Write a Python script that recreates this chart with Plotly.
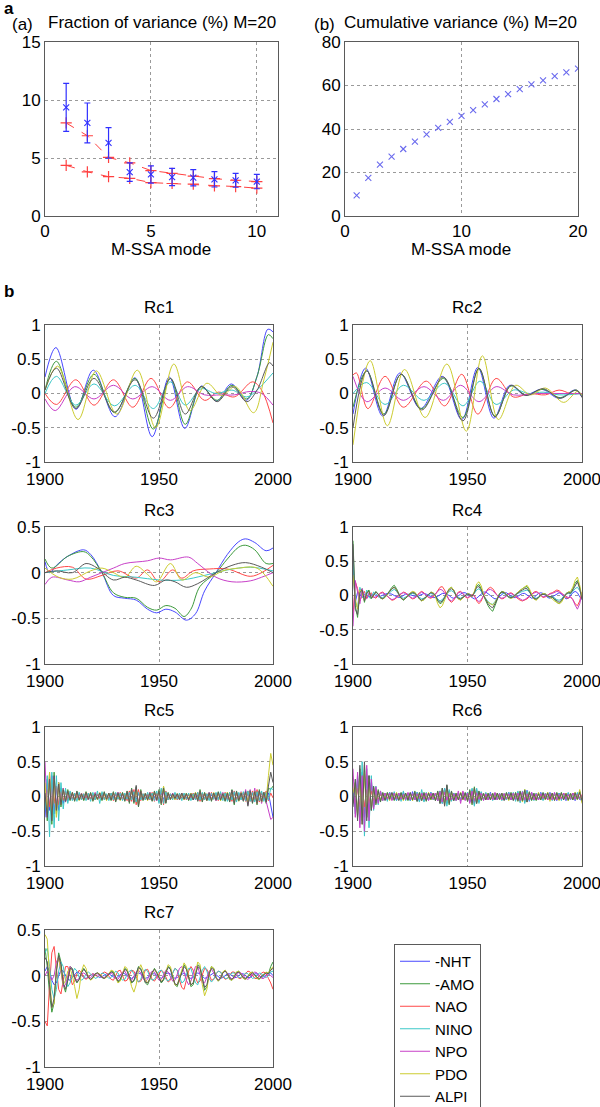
import plotly.graph_objects as go

# ---------------- Panel (a): fraction of variance ----------------
MODES_A = [1, 2, 3, 4, 5, 6, 7, 8, 9, 10]
FRAC_VAR = [9.37, 8.02, 6.30, 3.78, 3.58, 3.36, 3.30, 3.16, 3.08, 2.97]
FRAC_ERR = [2.07, 1.72, 1.32, 0.80, 0.74, 0.74, 0.70, 0.66, 0.60, 0.62]
NOISE_UPPER = [8.02, 6.92, 5.05, 4.58, 3.92, 3.67, 3.44, 3.22, 3.08, 2.97]
NOISE_LOWER = [4.37, 3.81, 3.39, 3.25, 2.88, 2.80, 2.74, 2.60, 2.54, 2.40]

# ---------------- Panel (b): cumulative variance ----------------
MODES_B = list(range(1, 21))
CUM_VAR = [9.5, 17.5, 23.6, 27.3, 30.8, 34.2, 37.5, 40.5, 43.3, 46.0,
           48.7, 51.3, 53.8, 56.0, 58.3, 60.5, 62.4, 64.3, 66.0, 67.8]

SERIES = ["-NHT", "-AMO", "NAO", "NINO", "NPO", "PDO", "ALPI"]
COLORS = ["#4848ff", "#3c9a3c", "#ff4848", "#3cc8c8", "#c840c8", "#cccc30", "#5a5a5a"]

# ---------------- Rc1..Rc3 : knots (year, value) per series ----------------
RC1_YEARS = {
    "-NHT": [1900, 1904.8, 1913.6, 1921.2, 1930.7, 1939.4, 1947, 1954.5, 1961.3, 1968.6, 1975.2, 1981.7, 1988.3, 1993, 1997.8, 2000],
    "-AMO": [1900, 1905, 1913.5, 1921.5, 1930.5, 1939.5, 1947.5, 1955, 1961.5, 1968.5, 1975.5, 1982, 1988.5, 1993, 1998, 2000],
    "NAO": [1900, 1905, 1913.5, 1921.5, 1930, 1938.5, 1946.5, 1954.5, 1962.5, 1970, 1976, 1983, 1991, 1995, 2000],
    "NINO": [1900, 1905, 1913.5, 1921.5, 1930.5, 1939.5, 1947.5, 1955, 1961.5, 1968.5, 1975, 1982, 1988.5, 1993, 2000],
    "NPO": [1900, 1904.5, 1913, 1921.5, 1930, 1938.5, 1947, 1955, 1962.5, 1970, 1977, 1983, 1990, 1995, 2000],
    "PDO": [1900, 1905.5, 1914.5, 1922.5, 1931.5, 1940.5, 1948.5, 1956.5, 1963.5, 1971, 1977.5, 1983.5, 1991.5, 1996, 2000],
    "ALPI": [1900, 1905, 1913.5, 1921.5, 1930.5, 1939.5, 1947.5, 1955, 1961.5, 1968.5, 1975.5, 1982, 1988.5, 1993, 1998.5, 2000],
}
RC1_VALUES = {
    "-NHT": [0.24, 0.67, -0.23, 0.34, -0.34, 0.23, -0.63, 0.24, -0.51, 0.11, -0.11, 0.14, -0.10, 0.25, 0.94, 0.90],
    "-AMO": [0.05, 0.47, -0.20, 0.28, -0.28, 0.22, -0.52, 0.22, -0.45, 0.10, -0.10, 0.12, -0.08, 0.25, 0.86, 0.80],
    "NAO": [0.0, -0.16, 0.20, -0.17, 0.20, -0.20, 0.22, -0.21, 0.17, -0.10, 0.02, -0.05, 0.17, 0.05, -0.43],
    "NINO": [0.0, 0.25, -0.17, 0.14, -0.18, 0.12, -0.22, 0.17, -0.17, 0.07, 0.0, 0.05, -0.05, 0.05, 0.30],
    "NPO": [-0.08, -0.25, 0.10, -0.08, 0.12, -0.08, 0.10, -0.10, 0.10, -0.02, -0.02, -0.02, 0.03, 0.0, -0.17],
    "PDO": [0.05, 0.40, -0.38, 0.33, -0.30, 0.34, -0.50, 0.43, -0.25, 0.15, -0.03, 0.10, -0.28, 0.20, 0.75],
    "ALPI": [0.05, 0.37, -0.22, 0.22, -0.27, 0.20, -0.36, 0.22, -0.30, 0.10, -0.12, 0.10, -0.12, 0.05, 0.45, 0.40],
}

RC2_YEARS = {
    "-NHT": [1900, 1905.5, 1913, 1920.5, 1929.5, 1939, 1947.5, 1954.5, 1961.5, 1968.5, 1975, 1982.5, 1990, 1997, 2000],
    "-AMO": [1900, 1906, 1913.5, 1921, 1930, 1939.5, 1948, 1955, 1962, 1969, 1975.5, 1983, 1990.5, 1997.5, 2000],
    "NAO": [1900, 1901.5, 1906.5, 1914, 1922, 1932, 1940, 1947.5, 1954.5, 1962.5, 1970, 1977, 1984, 1990, 1995, 2000],
    "NINO": [1900, 1906, 1914, 1922, 1931, 1940, 1948, 1955.5, 1962.5, 1970, 1977, 1983, 1990, 2000],
    "NPO": [1900, 1906, 1914, 1922, 1931, 1939.5, 1947, 1955, 1962.5, 1970, 1980, 1990, 2000],
    "PDO": [1900, 1907.5, 1915, 1922.5, 1931.5, 1941, 1949.5, 1956.5, 1963.5, 1971, 1977.5, 1984, 1992, 1998, 2000],
    "ALPI": [1900, 1906, 1913.5, 1921, 1930, 1939.5, 1948, 1955, 1962, 1969, 1975.5, 1983, 1990.5, 1997.5, 2000],
}
RC2_VALUES = {
    "-NHT": [-0.30, 0.37, -0.33, 0.30, -0.22, 0.25, -0.38, 0.38, -0.36, 0.12, -0.02, 0.06, -0.07, 0.05, -0.05],
    "-AMO": [-0.20, 0.33, -0.30, 0.28, -0.22, 0.22, -0.35, 0.36, -0.33, 0.11, -0.02, 0.06, -0.06, 0.05, -0.03],
    "NAO": [0.27, 0.30, -0.22, 0.25, -0.20, 0.18, -0.18, 0.28, -0.30, 0.22, -0.05, 0.0, -0.02, 0.05, 0.0, 0.0],
    "NINO": [0.0, 0.16, -0.16, 0.12, -0.10, 0.15, -0.18, 0.18, -0.16, 0.05, 0.0, 0.02, -0.02, 0.0],
    "NPO": [0.25, -0.12, 0.08, -0.10, 0.10, -0.10, 0.12, -0.12, 0.10, -0.02, 0.0, 0.0, 0.0],
    "PDO": [-0.75, 0.48, -0.47, 0.35, -0.35, 0.43, -0.55, 0.55, -0.38, 0.12, -0.02, 0.08, -0.13, 0.03, -0.02],
    "ALPI": [-0.50, 0.33, -0.32, 0.28, -0.24, 0.24, -0.40, 0.37, -0.34, 0.12, -0.03, 0.07, -0.07, 0.05, -0.06],
}

RC3_YEARS = {
    "-NHT": [1900, 1902, 1905, 1910, 1917, 1920, 1925, 1930, 1935, 1940, 1945, 1949, 1953, 1957, 1962, 1966, 1970, 1975, 1980, 1985, 1988, 1992, 1997, 2000],
    "-AMO": [1900, 1903, 1910, 1917, 1920, 1925, 1930, 1935, 1940, 1945, 1949, 1953, 1957, 1961, 1964, 1968, 1975, 1980, 1985, 1988, 1992, 1997, 2000],
    "NAO": [1900, 1905, 1912, 1918, 1925, 1932, 1940, 1945, 1950, 1956, 1960, 1965, 1972, 1980, 1990, 1995, 2000],
    "NINO": [1900, 1910, 1920, 1930, 1940, 1950, 1960, 1970, 1980, 1990, 2000],
    "NPO": [1900, 1903, 1910, 1915, 1920, 1930, 1935, 1945, 1950, 1955, 1963, 1967, 1975, 1982, 1990, 1995, 2000],
    "PDO": [1900, 1906, 1912, 1920, 1925, 1930, 1935, 1940, 1945, 1949, 1955, 1960, 1966, 1972, 1978, 1985, 1993, 2000],
    "ALPI": [1900, 1905, 1912, 1918, 1923, 1930, 1935, 1940, 1948, 1953, 1957, 1962, 1967, 1975, 1982, 1988, 1995, 2000],
}
RC3_VALUES = {
    "-NHT": [0.12, 0.0, 0.08, 0.18, 0.25, 0.20, 0.0, -0.25, -0.28, -0.30, -0.40, -0.44, -0.40, -0.43, -0.52, -0.45, -0.20, 0.0, 0.20, 0.34, 0.37, 0.33, 0.24, 0.27],
    "-AMO": [0.15, 0.05, 0.18, 0.23, 0.18, 0.0, -0.22, -0.27, -0.28, -0.38, -0.41, -0.36, -0.39, -0.48, -0.40, -0.15, 0.0, 0.15, 0.28, 0.30, 0.25, 0.10, 0.10],
    "NAO": [0.0, 0.05, 0.06, -0.07, -0.03, 0.02, -0.06, 0.03, -0.10, 0.03, -0.06, 0.02, 0.04, 0.04, -0.04, 0.0, 0.08],
    "NINO": [0.0, 0.03, 0.05, -0.03, -0.05, -0.08, -0.08, -0.03, 0.03, 0.06, 0.02],
    "NPO": [-0.13, -0.05, -0.08, -0.10, -0.05, 0.05, 0.10, 0.13, 0.16, 0.14, 0.17, 0.10, -0.05, -0.10, -0.09, -0.05, 0.0],
    "PDO": [0.05, -0.05, -0.07, 0.02, 0.05, 0.0, -0.05, 0.07, -0.02, -0.10, 0.10, -0.08, 0.0, -0.05, 0.02, 0.05, 0.05, -0.15],
    "ALPI": [0.0, 0.02, 0.0, 0.10, 0.05, -0.08, -0.05, -0.08, -0.14, -0.08, -0.10, -0.16, -0.12, 0.0, 0.08, 0.11, 0.06, 0.0],
}

# ---------------- Rc4..Rc7 : annual values 1900..2000 ----------------
YEARS = list(range(1900, 2001))

RC4 = {
    "-NHT": [0.35, -0.1, 0.05, 0.02, -0.03, 0.02, 0.0, -0.02, 0.01, 0.02,
             0.0, -0.02, -0.01, 0.01, 0.02, 0.03, 0.03, 0.02, 0.0, -0.02,
             -0.03, -0.02, 0.0, 0.02, 0.02, 0.01, -0.01, -0.02, -0.02, 0.0,
             0.02, 0.03, 0.02, 0.0, -0.02, -0.03, -0.03, -0.01, 0.01, 0.03,
             0.03, 0.02, 0.0, -0.03, -0.04, -0.03, 0.0, 0.02, 0.04, 0.04,
             0.02, -0.01, -0.03, -0.05, -0.04, -0.01, 0.02, 0.05, 0.05, 0.03,
             0.0, -0.03, -0.05, -0.04, -0.01, 0.02, 0.04, 0.04, 0.02, -0.01,
             -0.03, -0.03, -0.01, 0.01, 0.03, 0.03, 0.01, -0.02, -0.04, -0.03,
             0.0, 0.03, 0.04, 0.03, 0.0, -0.03, -0.04, -0.02, 0.01, 0.03,
             0.04, 0.02, -0.02, -0.05, -0.04, 0.0, 0.04, 0.06, 0.04, -0.02,
             -0.06],
    "-AMO": [0.8, -0.15, -0.32, 0.05, 0.1, -0.1, 0.05, 0.08, -0.05, 0.0,
             0.06, 0.02, -0.04, -0.05, -0.02, 0.02, 0.07, 0.12, 0.15, 0.1,
             0.03, -0.04, -0.07, -0.04, 0.0, 0.03, 0.05, 0.04, 0.0, -0.05,
             -0.08, -0.06, -0.02, 0.02, 0.05, 0.04, 0.0, -0.08, -0.12, -0.1,
             -0.04, 0.04, 0.1, 0.12, 0.08, 0.0, -0.05, -0.06, -0.03, 0.0,
             0.03, 0.02, -0.01, 0.05, 0.14, 0.16, 0.1, 0.0, -0.08, -0.15,
             -0.2, -0.23, -0.15, -0.05, 0.03, 0.06, 0.05, 0.01, -0.03, -0.04,
             -0.02, 0.02, 0.05, 0.08, 0.1, 0.12, 0.13, 0.08, 0.0, -0.05,
             -0.06, -0.03, 0.01, 0.03, 0.02, -0.01, -0.03, -0.02, -0.06, -0.1,
             -0.12, -0.08, -0.02, 0.03, 0.05, 0.04, 0.1, 0.18, 0.22, 0.12,
             -0.05],
    "NAO": [-0.3, 0.2, 0.1, -0.08, 0.0, 0.06, -0.04, 0.0, 0.04, -0.02,
            -0.04, 0.0, 0.04, 0.05, 0.02, -0.02, -0.05, -0.07, -0.06, -0.03,
            0.0, 0.03, 0.05, 0.04, 0.0, -0.03, -0.05, -0.04, 0.0, 0.04,
            0.06, 0.04, 0.0, -0.03, -0.04, -0.02, 0.02, 0.08, 0.12, 0.13,
            0.08, 0.0, -0.07, -0.1, -0.07, 0.0, 0.05, 0.06, 0.03, -0.02,
            -0.04, -0.02, 0.02, 0.0, -0.08, -0.12, -0.08, 0.0, 0.06, 0.1,
            0.12, 0.1, 0.05, 0.0, -0.03, -0.05, -0.04, 0.0, 0.03, 0.04,
            0.02, -0.02, -0.05, -0.07, -0.08, -0.07, -0.05, -0.02, 0.02, 0.05,
            0.06, 0.04, 0.0, -0.03, -0.02, 0.01, 0.03, 0.04, 0.06, 0.08,
            0.07, 0.04, 0.0, -0.03, -0.04, -0.02, -0.06, -0.12, -0.15, -0.08,
            0.05],
    "NINO": [0.5, -0.12, -0.18, 0.12, -0.02, -0.06, 0.08, -0.03, -0.04, 0.05,
             0.02, -0.01, -0.03, -0.03, -0.01, 0.01, 0.04, 0.07, 0.09, 0.06,
             0.02, -0.03, -0.04, -0.02, 0.0, 0.02, 0.03, 0.02, 0.0, -0.03,
             -0.05, -0.04, -0.01, 0.01, 0.03, 0.02, 0.0, -0.05, -0.08, -0.06,
             -0.02, 0.03, 0.06, 0.07, 0.05, 0.0, -0.03, -0.04, -0.02, 0.0,
             0.02, 0.01, -0.01, 0.03, 0.08, 0.1, 0.06, 0.0, -0.05, -0.09,
             -0.12, -0.13, -0.09, -0.03, 0.02, 0.04, 0.03, 0.0, -0.02, -0.02,
             -0.01, 0.01, 0.03, 0.05, 0.06, 0.07, 0.08, 0.05, 0.0, -0.03,
             -0.04, -0.02, 0.0, 0.02, 0.01, -0.01, -0.02, -0.01, -0.04, -0.06,
             -0.07, -0.05, -0.01, 0.02, 0.03, 0.02, 0.06, 0.1, 0.12, 0.07,
             0.0],
    "NPO": [-0.45, 0.22, 0.05, -0.12, 0.1, -0.02, -0.05, 0.04, 0.01, -0.03,
            -0.02, 0.01, 0.03, 0.04, 0.02, -0.01, -0.04, -0.06, -0.05, -0.02,
            0.01, 0.03, 0.04, 0.03, 0.0, -0.02, -0.04, -0.03, 0.0, 0.03,
            0.05, 0.03, 0.0, -0.02, -0.03, -0.01, 0.02, 0.06, 0.09, 0.08,
            0.04, -0.01, -0.06, -0.08, -0.05, 0.0, 0.04, 0.05, 0.02, -0.01,
            -0.03, -0.01, 0.01, -0.01, -0.06, -0.09, -0.06, 0.0, 0.05, 0.08,
            0.09, 0.07, 0.03, 0.0, -0.03, -0.04, -0.03, 0.0, 0.02, 0.03,
            0.01, -0.02, -0.04, -0.06, -0.07, -0.06, -0.04, -0.01, 0.02, 0.04,
            0.05, 0.03, 0.0, -0.02, -0.01, 0.01, 0.02, 0.03, 0.05, 0.06,
            0.05, 0.03, 0.0, -0.02, -0.03, -0.02, -0.06, -0.14, -0.2, -0.12,
            0.03],
    "PDO": [0.3, -0.05, -0.2, 0.08, 0.06, -0.08, 0.04, 0.06, -0.04, 0.0,
            0.05, 0.02, -0.03, -0.05, -0.03, 0.01, 0.06, 0.1, 0.12, 0.08,
            0.02, -0.04, -0.06, -0.04, 0.0, 0.04, 0.06, 0.05, 0.0, -0.05,
            -0.08, -0.06, -0.02, 0.02, 0.05, 0.04, -0.02, -0.12, -0.18, -0.15,
            -0.06, 0.04, 0.1, 0.12, 0.08, 0.0, -0.05, -0.07, -0.04, 0.0,
            0.03, 0.01, -0.02, 0.06, 0.17, 0.2, 0.14, 0.02, -0.06, -0.1,
            -0.12, -0.14, -0.1, -0.04, 0.02, 0.05, 0.05, 0.02, -0.02, -0.04,
            -0.03, 0.01, 0.05, 0.08, 0.1, 0.13, 0.15, 0.1, 0.02, -0.05,
            -0.07, -0.04, 0.0, 0.03, 0.02, 0.0, -0.03, -0.05, -0.08, -0.1,
            -0.12, -0.1, -0.04, 0.02, 0.05, 0.06, 0.12, 0.22, 0.27, 0.15,
            -0.03],
    "ALPI": [0.75, -0.2, -0.28, 0.04, 0.08, -0.08, 0.04, 0.06, -0.04, 0.0,
             0.05, 0.02, -0.03, -0.05, -0.02, 0.02, 0.06, 0.1, 0.12, 0.08,
             0.02, -0.04, -0.06, -0.04, 0.0, 0.03, 0.04, 0.03, 0.0, -0.05,
             -0.07, -0.05, -0.02, 0.02, 0.04, 0.03, 0.0, -0.07, -0.1, -0.08,
             -0.03, 0.04, 0.08, 0.1, 0.07, 0.0, -0.04, -0.05, -0.03, 0.0,
             0.02, 0.01, -0.01, 0.04, 0.12, 0.13, 0.08, 0.0, -0.07, -0.12,
             -0.16, -0.18, -0.12, -0.04, 0.02, 0.05, 0.04, 0.01, -0.02, -0.03,
             -0.02, 0.01, 0.04, 0.06, 0.08, 0.1, 0.1, 0.06, 0.0, -0.04,
             -0.05, -0.03, 0.01, 0.02, 0.02, -0.01, -0.02, -0.02, -0.05, -0.08,
             -0.1, -0.07, -0.02, 0.02, 0.04, 0.03, 0.08, 0.15, 0.2, 0.1,
             -0.06],
}

RC5 = {
    "-NHT": [-0.3, 0.25, -0.2, 0.3, -0.25, 0.15, -0.2, 0.12, -0.1, 0.08,
             -0.06, 0.05, -0.04, 0.03, -0.02, 0.03, -0.03, 0.02, -0.02, 0.03,
             -0.03, 0.02, -0.01, 0.02, -0.02, 0.03, -0.03, 0.02, -0.02, 0.02,
             -0.02, 0.03, -0.03, 0.02, -0.01, 0.02, -0.03, 0.03, -0.02, 0.03,
             -0.04, 0.04, -0.03, 0.02, -0.02, 0.02, -0.03, 0.03, -0.02, 0.03,
             -0.04, 0.05, -0.04, 0.03, -0.02, 0.02, -0.02, 0.02, -0.01, 0.02,
             -0.02, 0.02, -0.02, 0.02, -0.02, 0.03, -0.03, 0.02, -0.02, 0.03,
             -0.03, 0.03, -0.02, 0.02, -0.02, 0.03, -0.03, 0.03, -0.02, 0.02,
             -0.03, 0.03, -0.03, 0.04, -0.03, 0.03, -0.04, 0.04, -0.03, 0.04,
             -0.04, 0.05, -0.04, 0.04, -0.05, 0.05, -0.04, 0.06, 0.05, -0.15,
             -0.3],
    "-AMO": [0.1, -0.35, 0.3, -0.4, 0.35, -0.25, 0.2, -0.15, 0.12, -0.08,
             0.1, -0.06, 0.05, -0.07, 0.08, -0.05, 0.04, -0.06, 0.07, -0.05,
             0.06, -0.07, 0.05, -0.04, 0.05, -0.06, 0.07, -0.05, 0.04, -0.06,
             0.07, -0.08, 0.06, -0.05, 0.06, -0.07, 0.08, -0.1, 0.12, -0.1,
             0.14, -0.15, 0.1, -0.06, 0.05, -0.04, 0.06, -0.07, 0.08, -0.06,
             0.1, -0.12, 0.14, -0.1, 0.06, -0.05, 0.04, -0.03, 0.04, -0.05,
             0.04, -0.03, 0.05, -0.06, 0.05, -0.04, 0.06, -0.07, 0.1, -0.08,
             0.06, -0.05, 0.06, -0.07, 0.05, -0.06, 0.07, -0.06, 0.05, -0.07,
             0.06, -0.08, 0.1, -0.12, 0.08, -0.06, 0.05, -0.07, 0.08, -0.1,
             0.09, -0.1, 0.08, -0.12, 0.1, -0.08, 0.06, -0.1, 0.12, 0.1,
             0.15],
    "NAO": [0.0, 0.1, -0.15, 0.2, -0.1, 0.15, -0.12, 0.08, -0.06, 0.07,
            -0.05, 0.06, -0.04, 0.05, -0.03, 0.04, -0.05, 0.04, -0.03, 0.05,
            -0.04, 0.03, -0.05, 0.04, -0.03, 0.05, -0.04, 0.03, -0.04, 0.05,
            -0.06, 0.05, -0.04, 0.06, -0.05, 0.04, -0.06, 0.08, -0.07, 0.1,
            -0.12, 0.1, -0.06, 0.04, -0.05, 0.04, -0.05, 0.06, -0.07, 0.05,
            -0.08, 0.1, -0.12, 0.08, -0.05, 0.04, -0.03, 0.04, -0.05, 0.04,
            -0.03, 0.04, -0.05, 0.04, -0.03, 0.05, -0.04, 0.06, -0.07, 0.05,
            -0.05, 0.04, -0.05, 0.06, -0.04, 0.05, -0.06, 0.05, -0.04, 0.06,
            -0.05, 0.06, -0.07, 0.08, -0.06, 0.05, -0.04, 0.06, -0.07, 0.08,
            -0.07, 0.08, -0.06, 0.1, -0.08, 0.06, -0.05, 0.08, -0.06, 0.05,
            -0.02],
    "NINO": [-0.2, 0.3, -0.58, 0.35, -0.45, 0.3, -0.35, 0.2, -0.18, 0.12,
             -0.1, 0.08, -0.06, 0.05, -0.07, 0.06, -0.05, 0.04, -0.06, 0.05,
             -0.07, 0.06, -0.05, 0.08, -0.1, 0.07, -0.05, 0.04, -0.06, 0.05,
             -0.05, 0.06, -0.04, 0.05, -0.06, 0.05, -0.04, 0.06, -0.05, 0.07,
             -0.08, 0.06, -0.05, 0.04, -0.05, 0.06, -0.04, 0.05, -0.06, 0.08,
             -0.1, 0.12, -0.1, 0.07, -0.05, 0.04, -0.05, 0.06, -0.04, 0.05,
             -0.06, 0.05, -0.04, 0.05, -0.06, 0.04, -0.05, 0.06, -0.05, 0.06,
             -0.05, 0.04, -0.06, 0.05, -0.04, 0.06, -0.05, 0.07, -0.06, 0.05,
             -0.07, 0.06, -0.05, 0.07, -0.08, 0.06, -0.05, 0.07, -0.06, 0.08,
             -0.07, 0.06, -0.08, 0.07, -0.06, 0.08, -0.07, 0.06, -0.05, 0.12,
             0.1],
    "NPO": [0.5, -0.3, 0.35, -0.2, 0.28, -0.15, 0.2, -0.1, 0.12, -0.08,
            0.06, -0.05, 0.04, -0.05, 0.06, -0.04, 0.05, -0.04, 0.03, -0.05,
            0.04, -0.05, 0.06, -0.04, 0.05, -0.03, 0.04, -0.05, 0.04, -0.03,
            0.05, -0.04, 0.06, -0.05, 0.04, -0.05, 0.06, -0.08, 0.1, -0.07,
            0.12, -0.1, 0.08, -0.05, 0.04, -0.05, 0.06, -0.04, 0.05, -0.06,
            0.08, -0.1, 0.08, -0.06, 0.05, -0.04, 0.05, -0.04, 0.03, -0.04,
            0.05, -0.04, 0.03, -0.05, 0.04, -0.05, 0.04, -0.06, 0.07, -0.05,
            0.04, -0.05, 0.06, -0.04, 0.05, -0.06, 0.05, -0.04, 0.06, -0.05,
            0.04, -0.06, 0.08, -0.07, 0.06, -0.05, 0.07, -0.06, 0.1, -0.12,
            0.1, -0.08, 0.12, -0.1, 0.08, -0.1, 0.06, -0.08, -0.2, -0.33,
            -0.3],
    "PDO": [0.2, -0.25, 0.35, -0.3, 0.25, -0.3, 0.2, -0.12, 0.1, -0.06,
            0.08, -0.05, 0.06, -0.04, 0.05, -0.06, 0.04, -0.05, 0.06, -0.04,
            0.05, -0.06, 0.04, -0.05, 0.06, -0.05, 0.04, -0.06, 0.05, -0.04,
            0.06, -0.05, 0.04, -0.06, 0.05, -0.04, 0.06, -0.07, 0.08, -0.06,
            0.1, -0.12, 0.08, -0.05, 0.04, -0.06, 0.05, -0.04, 0.06, -0.05,
            0.08, -0.1, 0.15, -0.08, 0.05, -0.04, 0.03, -0.05, 0.04, -0.03,
            0.04, -0.05, 0.04, -0.03, 0.05, -0.04, 0.06, -0.05, 0.08, -0.06,
            0.05, -0.06, 0.04, -0.05, 0.06, -0.04, 0.05, -0.06, 0.04, -0.05,
            0.06, -0.05, 0.07, -0.06, 0.05, -0.07, 0.06, -0.05, 0.06, -0.08,
            0.07, -0.06, 0.08, -0.1, 0.07, -0.08, 0.06, -0.05, 0.3, 0.62,
            0.45],
    "ALPI": [0.05, -0.3, 0.25, -0.35, 0.3, -0.2, 0.18, -0.12, 0.1, -0.07,
             0.08, -0.05, 0.06, -0.06, 0.07, -0.05, 0.04, -0.05, 0.06, -0.04,
             0.05, -0.06, 0.04, -0.04, 0.05, -0.05, 0.06, -0.04, 0.05, -0.05,
             0.06, -0.07, 0.05, -0.05, 0.05, -0.06, 0.07, -0.08, 0.1, -0.08,
             0.16, -0.14, 0.08, -0.05, 0.04, -0.05, 0.05, -0.06, 0.07, -0.05,
             0.08, -0.1, 0.12, -0.09, 0.05, -0.04, 0.04, -0.03, 0.04, -0.04,
             0.05, -0.04, 0.04, -0.05, 0.04, -0.05, 0.05, -0.06, 0.08, -0.07,
             0.05, -0.06, 0.05, -0.06, 0.05, -0.05, 0.06, -0.05, 0.04, -0.06,
             0.05, -0.07, 0.09, -0.1, 0.07, -0.06, 0.05, -0.06, 0.07, -0.14,
             0.08, -0.09, 0.07, -0.1, 0.08, -0.07, 0.06, -0.08, 0.15, 0.35,
             0.2],
}

RC6 = {
    "-NHT": [0.0, -0.15, 0.25, -0.3, 0.35, -0.3, 0.3, -0.25, 0.2, -0.15,
             0.1, -0.08, 0.06, -0.05, 0.04, -0.05, 0.06, -0.04, 0.05, -0.06,
             0.04, -0.05, 0.06, -0.04, 0.05, -0.06, 0.07, -0.05, 0.06, -0.07,
             0.05, -0.06, 0.04, -0.05, 0.06, -0.04, 0.05, -0.06, 0.08, -0.1,
             0.12, -0.1, 0.08, -0.06, 0.05, -0.04, 0.05, -0.06, 0.04, -0.05,
             0.06, -0.08, 0.1, -0.12, 0.1, -0.08, 0.06, -0.05, 0.04, -0.05,
             0.06, -0.05, 0.04, -0.05, 0.04, -0.03, 0.04, -0.05, 0.06, -0.05,
             0.04, -0.05, 0.06, -0.07, 0.06, -0.08, 0.09, -0.07, 0.06, -0.05,
             0.04, -0.05, 0.06, -0.05, 0.04, -0.05, 0.06, -0.05, 0.04, -0.06,
             0.05, -0.04, 0.05, -0.06, 0.05, -0.04, 0.05, -0.06, 0.05, -0.04,
             -0.06],
    "-AMO": [-0.1, 0.2, -0.3, 0.4, -0.35, 0.45, -0.3, 0.3, -0.2, 0.15,
             -0.12, 0.1, -0.08, 0.06, -0.05, 0.06, -0.04, 0.05, -0.06, 0.05,
             -0.05, 0.06, -0.05, 0.04, -0.06, 0.05, -0.06, 0.08, -0.07, 0.06,
             -0.05, 0.06, -0.07, 0.05, -0.05, 0.04, -0.06, 0.08, -0.1, 0.12,
             -0.12, 0.16, -0.12, 0.08, -0.06, 0.05, -0.04, 0.06, -0.05, 0.06,
             -0.07, 0.1, -0.12, 0.14, -0.1, 0.08, -0.06, 0.05, -0.04, 0.05,
             -0.04, 0.05, -0.04, 0.04, -0.05, 0.04, -0.05, 0.06, -0.05, 0.06,
             -0.05, 0.06, -0.07, 0.08, -0.07, 0.1, -0.08, 0.07, -0.06, 0.05,
             -0.06, 0.05, -0.04, 0.06, -0.05, 0.06, -0.05, 0.04, -0.05, 0.06,
             -0.05, 0.06, -0.04, 0.05, -0.06, 0.05, -0.04, 0.06, -0.05, 0.08,
             -0.08],
    "NAO": [0.05, -0.1, 0.12, -0.15, 0.12, -0.15, 0.1, -0.1, 0.08, -0.06,
            0.05, -0.04, 0.03, -0.04, 0.05, -0.03, 0.04, -0.05, 0.04, -0.03,
            0.04, -0.05, 0.04, -0.03, 0.04, -0.05, 0.04, -0.04, 0.05, -0.04,
            0.03, -0.04, 0.05, -0.04, 0.03, -0.04, 0.05, -0.06, 0.07, -0.08,
            0.1, -0.08, 0.06, -0.05, 0.04, -0.03, 0.04, -0.05, 0.04, -0.04,
            0.05, -0.06, 0.08, -0.1, 0.08, -0.06, 0.05, -0.04, 0.03, -0.04,
            0.03, -0.04, 0.05, -0.04, 0.03, -0.04, 0.04, -0.05, 0.04, -0.05,
            0.04, -0.05, 0.05, -0.06, 0.05, -0.07, 0.06, -0.05, 0.04, -0.03,
            0.04, -0.05, 0.04, -0.03, 0.04, -0.05, 0.04, -0.03, 0.04, -0.05,
            0.04, -0.03, 0.05, -0.04, 0.03, -0.04, 0.05, -0.04, 0.03, -0.02,
            0.03],
    "NINO": [0.1, -0.25, 0.3, -0.4, 0.5, -0.57, 0.4, -0.45, 0.3, -0.2,
             0.15, -0.12, 0.08, -0.06, 0.05, -0.07, 0.06, -0.05, 0.07, -0.06,
             0.05, -0.07, 0.08, -0.06, 0.05, -0.06, 0.04, -0.05, 0.06, -0.08,
             0.1, -0.08, 0.06, -0.05, 0.06, -0.05, 0.04, -0.06, 0.08, -0.1,
             0.12, -0.14, 0.1, -0.07, 0.05, -0.06, 0.05, -0.04, 0.06, -0.05,
             0.06, -0.08, 0.12, -0.14, 0.12, -0.1, 0.07, -0.05, 0.06, -0.04,
             0.05, -0.06, 0.05, -0.04, 0.05, -0.06, 0.04, -0.05, 0.06, -0.05,
             0.06, -0.07, 0.08, -0.09, 0.08, -0.1, 0.08, -0.06, 0.05, -0.06,
             0.05, -0.04, 0.05, -0.06, 0.05, -0.04, 0.05, -0.06, 0.05, -0.04,
             0.05, -0.06, 0.04, -0.05, 0.06, -0.05, 0.04, -0.05, 0.06, -0.05,
             0.0],
    "NPO": [0.4, -0.3, 0.35, -0.45, 0.3, -0.5, 0.45, -0.35, 0.25, -0.18,
            0.14, -0.1, 0.08, -0.06, 0.05, -0.04, 0.05, -0.06, 0.05, -0.04,
            0.05, -0.04, 0.03, -0.05, 0.06, -0.05, 0.04, -0.05, 0.04, -0.03,
            0.05, -0.04, 0.05, -0.06, 0.05, -0.04, 0.05, -0.06, 0.07, -0.08,
            0.06, -0.05, 0.04, -0.05, 0.04, -0.06, 0.08, -0.1, 0.08, -0.06,
            0.05, -0.1, 0.08, -0.06, 0.05, -0.04, 0.05, -0.06, 0.04, -0.05,
            0.04, -0.05, 0.06, -0.05, 0.04, -0.05, 0.04, -0.03, 0.04, -0.05,
            0.05, -0.04, 0.05, -0.06, 0.07, -0.05, 0.04, -0.05, 0.06, -0.05,
            0.04, -0.05, 0.04, -0.03, 0.04, -0.05, 0.04, -0.05, 0.06, -0.04,
            0.03, -0.04, 0.05, -0.04, 0.03, -0.04, 0.05, -0.04, 0.03, -0.04,
            0.02],
    "PDO": [0.05, 0.2, -0.25, 0.3, -0.4, 0.35, -0.3, 0.25, -0.18, 0.12,
            -0.1, 0.08, -0.06, 0.05, -0.04, 0.05, -0.06, 0.05, -0.04, 0.06,
            -0.05, 0.04, -0.06, 0.05, -0.04, 0.05, -0.06, 0.05, -0.04, 0.05,
            -0.06, 0.05, -0.04, 0.06, -0.05, 0.04, -0.05, 0.06, -0.08, 0.1,
            -0.1, 0.12, -0.08, 0.06, -0.05, 0.04, -0.05, 0.06, -0.05, 0.04,
            -0.06, 0.08, -0.1, 0.12, -0.08, 0.06, -0.05, 0.04, -0.05, 0.04,
            -0.05, 0.04, -0.03, 0.05, -0.04, 0.05, -0.04, 0.05, -0.06, 0.05,
            -0.04, 0.05, -0.06, 0.07, -0.08, 0.1, -0.08, 0.06, -0.05, 0.04,
            -0.05, 0.06, -0.05, 0.04, -0.05, 0.06, -0.07, 0.05, -0.04, 0.05,
            -0.06, 0.05, -0.04, 0.05, -0.06, 0.04, -0.05, 0.06, -0.05, 0.1,
            -0.1],
    "ALPI": [-0.15, 0.25, -0.35, 0.45, -0.4, 0.5, -0.35, 0.3, -0.2, 0.14,
             -0.1, 0.08, -0.07, 0.05, -0.06, 0.05, -0.04, 0.06, -0.05, 0.04,
             -0.06, 0.05, -0.04, 0.05, -0.05, 0.06, -0.05, 0.06, -0.07, 0.05,
             -0.06, 0.05, -0.06, 0.05, -0.04, 0.05, -0.06, 0.07, -0.1, 0.12,
             -0.14, 0.17, -0.1, 0.07, -0.06, 0.04, -0.05, 0.05, -0.04, 0.05,
             -0.06, 0.08, -0.1, 0.12, -0.1, 0.07, -0.05, 0.04, -0.05, 0.04,
             -0.05, 0.04, -0.05, 0.05, -0.04, 0.05, -0.06, 0.05, -0.04, 0.05,
             -0.06, 0.05, -0.06, 0.07, -0.06, 0.09, -0.08, 0.06, -0.05, 0.04,
             -0.05, 0.04, -0.05, 0.05, -0.04, 0.05, -0.04, 0.05, -0.06, 0.05,
             -0.04, 0.05, -0.05, 0.04, -0.05, 0.04, -0.05, 0.05, -0.04, 0.06,
             -0.06],
}

RC7 = {
    "-NHT": [0.05, 0.1, 0.05, -0.05, -0.1, -0.08, 0.0, 0.06, 0.05, 0.0,
             -0.04, -0.05, -0.02, 0.02, 0.04, 0.03, 0.0, -0.02, -0.03, -0.01,
             0.01, 0.02, 0.01, -0.01, -0.02, -0.01, 0.01, 0.02, 0.02, 0.0,
             -0.02, -0.03, -0.01, 0.01, 0.03, 0.02, 0.0, -0.02, -0.03, -0.01,
             0.02, 0.03, 0.02, -0.01, -0.03, -0.02, 0.0, 0.02, 0.02, 0.0,
             -0.02, -0.03, -0.01, 0.02, 0.03, 0.02, -0.01, -0.03, -0.02, 0.0,
             0.02, 0.03, 0.01, -0.02, -0.03, -0.02, 0.01, 0.03, 0.02, -0.01,
             -0.03, -0.02, 0.0, 0.02, 0.03, 0.01, -0.01, -0.03, -0.02, 0.0,
             0.02, 0.02, 0.0, -0.02, -0.02, 0.0, 0.02, 0.02, 0.0, -0.02,
             -0.02, 0.0, 0.02, 0.02, 0.0, -0.02, -0.01, 0.01, 0.03, 0.03,
             0.0],
    "-AMO": [0.3, 0.1, -0.2, -0.4, -0.3, 0.05, 0.25, 0.15, -0.1, -0.18,
             -0.05, 0.1, 0.08, -0.03, -0.08, -0.04, 0.04, 0.08, 0.04, -0.02,
             -0.04, -0.02, 0.02, 0.03, 0.01, -0.02, -0.03, -0.01, 0.02, 0.05,
             0.04, -0.02, -0.07, -0.05, 0.02, 0.08, 0.06, -0.02, -0.08, -0.06,
             0.03, 0.1, 0.08, 0.0, -0.08, -0.1, -0.04, 0.04, 0.08, 0.04,
             -0.03, -0.08, -0.05, 0.04, 0.1, 0.08, -0.02, -0.1, -0.12, -0.04,
             0.06, 0.12, 0.08, -0.04, -0.12, -0.1, 0.0, 0.12, 0.1, -0.04,
             -0.16, -0.12, 0.02, 0.1, 0.08, -0.02, -0.06, -0.03, 0.04, 0.06,
             0.02, -0.04, -0.05, -0.01, 0.04, 0.05, 0.01, -0.03, -0.04, -0.01,
             0.03, 0.04, 0.01, -0.03, -0.04, -0.01, 0.02, 0.03, 0.02, 0.1,
             0.15],
    "NAO": [-0.5, -0.55, -0.1, 0.25, 0.32, 0.1, -0.15, -0.2, -0.05, 0.1,
            0.1, -0.02, -0.1, -0.06, 0.02, 0.06, 0.03, -0.02, -0.04, -0.02,
            0.01, 0.02, 0.01, -0.01, 0.0, 0.02, 0.04, 0.03, 0.0, -0.04,
            -0.05, 0.0, 0.05, 0.06, 0.0, -0.06, -0.05, 0.01, 0.06, 0.05,
            -0.02, -0.07, -0.06, 0.0, 0.06, 0.07, 0.02, -0.04, -0.06, -0.02,
            0.03, 0.06, 0.04, -0.02, -0.07, -0.05, 0.03, 0.08, 0.06, -0.05,
            -0.13, -0.15, -0.05, 0.05, 0.1, 0.06, -0.02, -0.08, -0.06, 0.02,
            0.08, 0.07, 0.0, -0.05, -0.04, 0.02, 0.05, 0.04, -0.01, -0.04,
            -0.03, 0.01, 0.04, 0.04, 0.0, -0.03, -0.03, 0.0, 0.03, 0.05,
            0.04, 0.0, -0.03, -0.03, 0.0, 0.03, 0.04, 0.02, -0.03, -0.08,
            -0.15],
    "NINO": [0.25, 0.3, 0.1, -0.15, -0.25, -0.15, 0.05, 0.15, 0.1, -0.05,
             -0.12, -0.08, 0.03, 0.08, 0.05, -0.02, -0.05, -0.03, 0.02, 0.04,
             0.02, -0.01, -0.03, -0.02, 0.01, 0.03, 0.02, -0.01, -0.03, -0.02,
             0.02, 0.05, 0.03, -0.02, -0.05, -0.04, 0.01, 0.05, 0.06, 0.02,
             -0.04, -0.07, -0.04, 0.03, 0.07, 0.05, -0.01, -0.05, -0.04, 0.01,
             0.05, 0.06, 0.02, -0.04, -0.06, -0.03, 0.03, 0.08, 0.06, -0.02,
             -0.08, -0.06, 0.02, 0.08, 0.08, 0.0, -0.08, -0.1, -0.03, 0.06,
             0.1, 0.05, -0.03, -0.07, -0.04, 0.02, 0.05, 0.04, 0.0, -0.03,
             -0.03, 0.0, 0.03, 0.03, 0.0, -0.02, -0.02, 0.01, 0.03, 0.02,
             -0.01, -0.03, -0.02, 0.01, 0.03, 0.02, -0.01, -0.02, 0.0, 0.04,
             0.05],
    "NPO": [0.0, 0.05, 0.0, -0.05, 0.0, 0.15, 0.2, 0.05, -0.12, -0.1,
            0.02, 0.1, 0.06, -0.02, -0.05, -0.03, 0.02, 0.03, 0.01, -0.02,
            -0.02, 0.0, 0.02, 0.02, 0.0, -0.02, -0.02, 0.0, 0.02, 0.03,
            0.01, -0.03, -0.04, 0.0, 0.04, 0.05, 0.01, -0.04, -0.05, -0.01,
            0.04, 0.06, 0.03, -0.03, -0.06, -0.04, 0.02, 0.05, 0.04, -0.01,
            -0.05, -0.04, 0.02, 0.06, 0.04, -0.02, -0.06, -0.05, 0.02, 0.08,
            0.1, 0.04, -0.05, -0.1, -0.06, 0.02, 0.1, 0.1, 0.02, -0.08,
            -0.08, -0.02, 0.05, 0.07, 0.03, -0.03, -0.05, -0.02, 0.03, 0.05,
            0.03, -0.01, -0.04, -0.03, 0.01, 0.04, 0.03, 0.0, -0.03, -0.04,
            -0.02, 0.02, 0.04, 0.03, 0.0, -0.03, -0.03, 0.0, 0.02, 0.0,
            -0.02],
    "PDO": [0.45, 0.4, 0.0, -0.35, -0.3, 0.1, 0.2, 0.05, -0.1, -0.05,
            0.05, 0.08, 0.0, -0.12, -0.25, -0.15, 0.05, 0.12, 0.08, -0.02,
            -0.05, -0.03, 0.01, 0.03, 0.02, -0.01, -0.03, -0.02, 0.02, 0.06,
            0.05, -0.02, -0.08, -0.06, 0.02, 0.1, 0.08, -0.04, -0.12, -0.18,
            -0.1, 0.06, 0.12, 0.06, -0.04, -0.08, -0.04, 0.03, 0.07, 0.04,
            -0.02, -0.06, -0.04, 0.04, 0.12, 0.1, 0.0, -0.1, -0.1, -0.02,
            0.08, 0.14, 0.1, -0.02, -0.1, -0.08, 0.02, 0.15, 0.12, -0.1,
            -0.22, -0.15, 0.02, 0.1, 0.08, -0.02, -0.06, -0.03, 0.04, 0.06,
            0.02, -0.04, -0.05, -0.01, 0.04, 0.05, 0.01, -0.03, -0.04, -0.01,
            0.03, 0.04, 0.01, -0.03, -0.04, -0.01, 0.02, 0.04, 0.03, 0.06,
            0.1],
    "ALPI": [0.2, 0.15, -0.1, -0.35, -0.25, 0.05, 0.22, 0.12, -0.08, -0.15,
             -0.05, 0.08, 0.07, -0.02, -0.07, -0.04, 0.03, 0.07, 0.04, -0.02,
             -0.04, -0.02, 0.02, 0.03, 0.01, -0.02, -0.03, -0.01, 0.02, 0.04,
             0.03, -0.02, -0.06, -0.04, 0.02, 0.07, 0.05, -0.02, -0.07, -0.05,
             0.02, 0.09, 0.07, 0.0, -0.07, -0.08, -0.03, 0.04, 0.07, 0.03,
             -0.03, -0.07, -0.04, 0.04, 0.09, 0.07, -0.02, -0.09, -0.1, -0.03,
             0.05, 0.1, 0.07, -0.03, -0.1, -0.08, 0.0, 0.1, 0.08, -0.04,
             -0.13, -0.1, 0.02, 0.08, 0.07, -0.02, -0.05, -0.03, 0.03, 0.05,
             0.02, -0.03, -0.04, -0.01, 0.03, 0.04, 0.01, -0.02, -0.03, -0.01,
             0.02, 0.03, 0.01, -0.02, -0.03, -0.01, 0.02, 0.03, 0.02, 0.06,
             0.08],
}

# ---------------- layout helpers ----------------
W, H = 600, 1107
FONT = "Liberation Sans, Arial, sans-serif"
FS = 17


def px_x(a, b):
    return [a / W, b / W]


def px_y(top, bottom):
    return [1 - bottom / H, 1 - top / H]


def axis(domain, rng, tickvals, ticktext, anchor, standoff=0):
    return dict(domain=domain, range=rng, tickvals=tickvals, ticktext=ticktext,
                showgrid=True, griddash="dot", gridcolor="#9a9a9a", gridwidth=1,
                zeroline=False, showline=True, linecolor="#5a5a5a", linewidth=1,
                mirror=True, ticks="", anchor=anchor, automargin=False,
                ticklabeloverflow="allow", ticklabelstandoff=standoff,
                tickfont=dict(family=FONT, size=FS, color="black"))


fig = go.Figure()

# Panel (a)
fig.add_trace(go.Scatter(x=MODES_A, y=NOISE_UPPER, mode="lines+markers", xaxis="x", yaxis="y",
                         line=dict(color="#ff4040", width=1, dash="dash"),
                         marker=dict(symbol="cross-thin", size=8, line=dict(color="#ff4040", width=1.2)),
                         showlegend=False))
fig.add_trace(go.Scatter(x=MODES_A, y=NOISE_LOWER, mode="lines+markers", xaxis="x", yaxis="y",
                         line=dict(color="#ff4040", width=1, dash="dash"),
                         marker=dict(symbol="cross-thin", size=8, line=dict(color="#ff4040", width=1.2)),
                         showlegend=False))
fig.add_trace(go.Scatter(x=MODES_A, y=FRAC_VAR, mode="markers", xaxis="x", yaxis="y",
                         marker=dict(symbol="x-thin", size=6, color="#3030ff", line=dict(color="#3030ff", width=1.1)),
                         error_y=dict(type="data", array=FRAC_ERR, color="#3030ff", thickness=1.2, width=3),
                         showlegend=False))

# Panel (b)
fig.add_trace(go.Scatter(x=MODES_B, y=CUM_VAR, mode="markers", xaxis="x2", yaxis="y2",
                         marker=dict(symbol="x-thin", size=6, line=dict(color="#6a6aee", width=1.1)),
                         showlegend=False))

# Rc panels
rc_sparse = [(RC1_YEARS, RC1_VALUES, "x3", "y3"),
             (RC2_YEARS, RC2_VALUES, "x4", "y4"),
             (RC3_YEARS, RC3_VALUES, "x5", "y5")]
for k, (yrs, vals, xa, ya) in enumerate(rc_sparse):
    for name, col in zip(SERIES, COLORS):
        fig.add_trace(go.Scatter(x=yrs[name], y=vals[name], mode="lines", xaxis=xa, yaxis=ya,
                                 name=name, line=dict(color=col, width=1, shape="spline"),
                                 showlegend=(k == 0), legendgroup=name))

rc_annual = [(RC4, "x6", "y6"), (RC5, "x7", "y7"), (RC6, "x8", "y8"), (RC7, "x9", "y9")]
for data, xa, ya in rc_annual:
    for name, col in zip(SERIES, COLORS):
        fig.add_trace(go.Scatter(x=YEARS, y=data[name], mode="lines", xaxis=xa, yaxis=ya,
                                 name=name, line=dict(color=col, width=1),
                                 showlegend=False, legendgroup=name))

# axes
YT_FULL = ([-1, -0.5, 0, 0.5, 1], ["-1", "-0.5", "0", "0.5", "1"])
YT_HALF = ([-1, -0.5, 0, 0.5], ["-1", "-0.5", "0", "0.5"])
XT_YEAR = ([1900, 1950, 2000], ["1900", "1950", "2000"])

LEFT = px_x(45, 273)
RIGHT = px_x(353, 582)
ROW1 = px_y(325, 462)
ROW2 = px_y(527, 664)
ROW3 = px_y(727, 866)
ROW4 = px_y(930, 1067)

layout_axes = {
    "xaxis": axis(px_x(45, 278), [0, 11], [0, 5, 10], ["0", "5", "10"], "y"),
    "yaxis": axis(px_y(42, 216), [0, 15], [0, 5, 10, 15], ["0", "5", "10", "15"], "x"),
    "xaxis2": axis(px_x(345, 578), [0, 20], [0, 10, 20], ["0", "10", "20"], "y2"),
    "yaxis2": axis(px_y(42, 216), [0, 80], [0, 20, 40, 60, 80], ["0", "20", "40", "60", "80"], "x2"),
}
rc_specs = [(LEFT, ROW1, YT_FULL, [-1, 1]), (RIGHT, ROW1, YT_FULL, [-1, 1]),
            (LEFT, ROW2, YT_HALF, [-1, 0.5]), (RIGHT, ROW2, YT_FULL, [-1, 1]),
            (LEFT, ROW3, YT_FULL, [-1, 1]), (RIGHT, ROW3, YT_FULL, [-1, 1]),
            (LEFT, ROW4, YT_HALF, [-1, 0.5])]
for i, (xd, yd, yt, yr) in enumerate(rc_specs):
    n = i + 3
    layout_axes["xaxis%d" % n] = axis(xd, [1900, 2000], XT_YEAR[0], XT_YEAR[1], "y%d" % n, standoff=2)
    layout_axes["yaxis%d" % n] = axis(yd, yr, yt[0], yt[1], "x%d" % n)

fig.update_layout(**layout_axes)


def ann(text, xpx, ypx, size=FS, bold=False, xanchor="center"):
    t = "<b>%s</b>" % text if bold else text
    return dict(text=t, x=xpx / W, y=1 - ypx / H, xref="paper", yref="paper",
                xanchor=xanchor, yanchor="middle", showarrow=False,
                font=dict(family=FONT, size=size, color="black"))


annotations = [
    ann("a", 2, 8, bold=True, xanchor="left"),
    ann("(a)", 10, 24, xanchor="left"),
    ann("Fraction of variance (%) M=20", 162, 23),
    ann("M-SSA mode", 161, 249),
    ann("(b)", 312, 24, xanchor="left"),
    ann("Cumulative variance (%) M=20", 460, 23),
    ann("M-SSA mode", 461, 249),
    ann("b", 2, 291, bold=True, xanchor="left"),
    ann("Rc1", 159, 307), ann("Rc2", 467, 307),
    ann("Rc3", 159, 510), ann("Rc4", 467, 510),
    ann("Rc5", 159, 710), ann("Rc6", 467, 710),
    ann("Rc7", 159, 912),
]

fig.update_layout(
    width=W, height=H,
    margin=dict(l=0, r=0, t=0, b=0, autoexpand=False),
    paper_bgcolor="white", plot_bgcolor="white",
    font=dict(family=FONT, size=FS, color="black"),
    annotations=annotations,
    showlegend=True,
    hovermode=False,
    legend=dict(x=394 / W, y=1 - 944 / H, xanchor="left", yanchor="top",
                bordercolor="#5a5a5a", borderwidth=1, bgcolor="white",
                font=dict(family=FONT, size=15, color="black"),
                itemwidth=30, tracegroupgap=0),
)

fig.write_html("out.html",
               config={"displayModeBar": False, "staticPlot": False},
               post_script="document.body.style.margin='0px';document.body.style.overflow='hidden';")
